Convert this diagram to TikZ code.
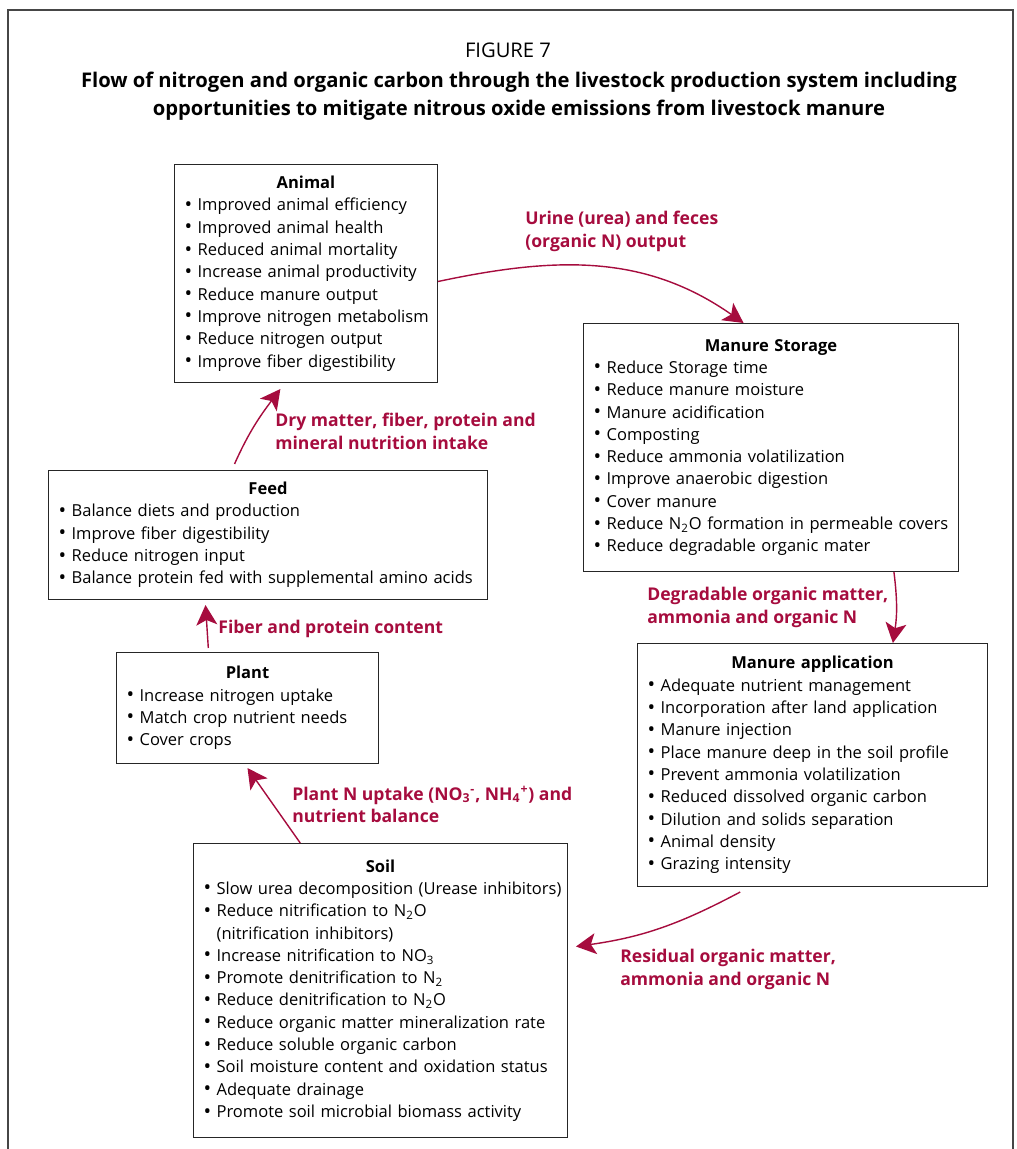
\documentclass[tikz,border=0pt]{standalone}
\usepackage{fontspec}
\setmainfont{Open Sans}
\usetikzlibrary{positioning, arrows.meta, calc}

\definecolor{flowred}{RGB}{166,12,62}
\definecolor{framegray}{RGB}{70,70,70}

\hyphenpenalty=10000

\newcommand{\blt}{\raisebox{-0.3pt}{\fontsize{11.5}{12}\selectfont\textbullet}}
\newcommand{\itm}[1]{\mbox{\blt\ #1}}
\newcommand{\cont}[1]{\mbox{\phantom{\blt\ }#1}}
\newcommand{\hd}[1]{\null\hfill\textbf{#1}\hfill\null}

\begin{document}
\begin{tikzpicture}[x=0.02cm, y=0.02cm,
    box/.style={draw=black!85, line width=0.6pt, fill=white, anchor=north west,
      align=left, inner xsep=0.2cm, inner ysep=0pt,
      font=\fontsize{9.4}{12.7}\selectfont},
    flow/.style={draw=flowred, line width=0.8pt,
      -{Stealth[length=0.4cm, width=0.42cm, inset=0.1cm]}},
    lbl/.style={anchor=north west, align=left, inner sep=0pt, text=flowred,
      font=\bfseries\fontsize{10}{13}\selectfont}]
  \useasboundingbox (0,0) rectangle (1017,-1149);
  \draw[framegray, line width=0.6pt] (8,-1149) -- (8,-10) -- (1013,-10) -- (1013,-1149);

  \node[font=\fontsize{11.5}{15.9}\selectfont] (fignum) at (508,-50) {FIGURE 7};
  \node[font=\bfseries\fontsize{11.5}{15.9}\selectfont, align=center] (title) at (519,-96)
    {Flow of nitrogen and organic carbon through the livestock production system including\\
     opportunities to mitigate nitrous oxide emissions from livestock manure};

  % boxes
  \node[box, text width=4.86cm, minimum height=4.36cm] (animal) at (174,-164) {\hd{Animal}\\
    \itm{Improved animal efficiency}\\
    \itm{Improved animal health}\\
    \itm{Reduced animal mortality}\\
    \itm{Increase animal productivity}\\
    \itm{Reduce manure output}\\
    \itm{Improve nitrogen metabolism}\\
    \itm{Reduce nitrogen output}\\
    \itm{Improve fiber digestibility}};
  \node[box, text width=7.1cm, minimum height=4.96cm] (storage) at (583,-323) {\hd{Manure Storage}\\
    \itm{Reduce Storage time}\\
    \itm{Reduce manure moisture}\\
    \itm{Manure acidification}\\
    \itm{Composting}\\
    \itm{Reduce ammonia volatilization}\\
    \itm{Improve anaerobic digestion}\\
    \itm{Cover manure}\\
    \itm{Reduce N\textsubscript{2}O formation in permeable covers}\\
    \itm{Reduce degradable organic mater}};
  \node[box, text width=8.38cm, minimum height=2.58cm] (feed) at (48,-470) {\hd{Feed}\\
    \itm{Balance diets and production}\\
    \itm{Improve fiber digestibility}\\
    \itm{Reduce nitrogen input}\\
    \itm{Balance protein fed with supplemental amino acids}};
  \node[box, text width=4.84cm, minimum height=2.22cm] (plant) at (116,-652) {\hd{Plant}\\
    \itm{Increase nitrogen uptake}\\
    \itm{Match crop nutrient needs}\\
    \itm{Cover crops}};
  \node[box, text width=6.6cm, minimum height=4.86cm] (app) at (637,-643) {\hd{Manure application}\\
    \itm{Adequate nutrient management}\\
    \itm{Incorporation after land application}\\
    \itm{Manure injection}\\
    \itm{Place manure deep in the soil profile}\\
    \itm{Prevent ammonia volatilization}\\
    \itm{Reduced dissolved organic carbon}\\
    \itm{Dilution and solids separation}\\
    \itm{Animal density}\\
    \itm{Grazing intensity}};
  \node[box, text width=7.08cm, minimum height=5.88cm] (soil) at (193,-843) {\hd{Soil}\\
    \itm{Slow urea decomposition (Urease inhibitors)}\\
    \itm{Reduce nitrification to N\textsubscript{2}O}\\
    \cont{(nitrification inhibitors)}\\
    \itm{Increase nitrification to NO\textsubscript{3}}\\
    \itm{Promote denitrification to N\textsubscript{2}}\\
    \itm{Reduce denitrification to N\textsubscript{2}O}\\
    \itm{Reduce organic matter mineralization rate}\\
    \itm{Reduce soluble organic carbon}\\
    \itm{Soil moisture content and oxidation status}\\
    \itm{Adequate drainage}\\
    \itm{Promote soil microbial biomass activity}};

  % flows
  \draw[flow] ([yshift=-0.16cm]animal.east)
    to[out=12, in=145] ($(storage.north west)!0.427!(storage.north east)$);
  \draw[flow] ($(storage.south west)!0.827!(storage.south east)$)
    to[bend left=8] ($(app.north west)!0.729!(app.north east)$);
  \draw[flow] ($(app.south west)!0.294!(app.south east)+(0,-5)$)
    to[out=208, in=8] ($(soil.east)+(8,44)$);
  \draw[flow] ($(soil.north west)!0.286!(soil.north east)$)
    -- ($(plant.south west)!0.5!(plant.south east)+(0,-4)$);
  \draw[flow] ($(plant.north west)!0.351!(plant.north east)+(0,4)$)
    -- ($(feed.south west)!0.358!(feed.south east)+(0,-5)$);
  \draw[flow] ($(feed.north west)!0.424!(feed.north east)+(0,6)$)
    to[out=66, in=233] ($(animal.south west)!0.403!(animal.south east)+(0,-6)$);

  % labels
  \node[lbl] (urine) at (525,-211) {Urine (urea) and feces\\(organic N) output};
  \node[lbl] (degr) at (647,-587) {Degradable organic matter,\\ammonia and organic N};
  \node[lbl] (resid) at (620,-949) {Residual organic matter,\\ammonia and organic N};
  \node[lbl] (uptake) at (292,-786) {Plant N uptake (NO\textsubscript{3}\textsuperscript{-}, NH\textsubscript{4}\textsuperscript{+}) and\\nutrient balance};
  \node[lbl] (fiber) at (218,-620) {Fiber and protein content};
  \node[lbl] (intake) at (275,-413) {Dry matter, fiber, protein and\\mineral nutrition intake};
\end{tikzpicture}
\end{document}
